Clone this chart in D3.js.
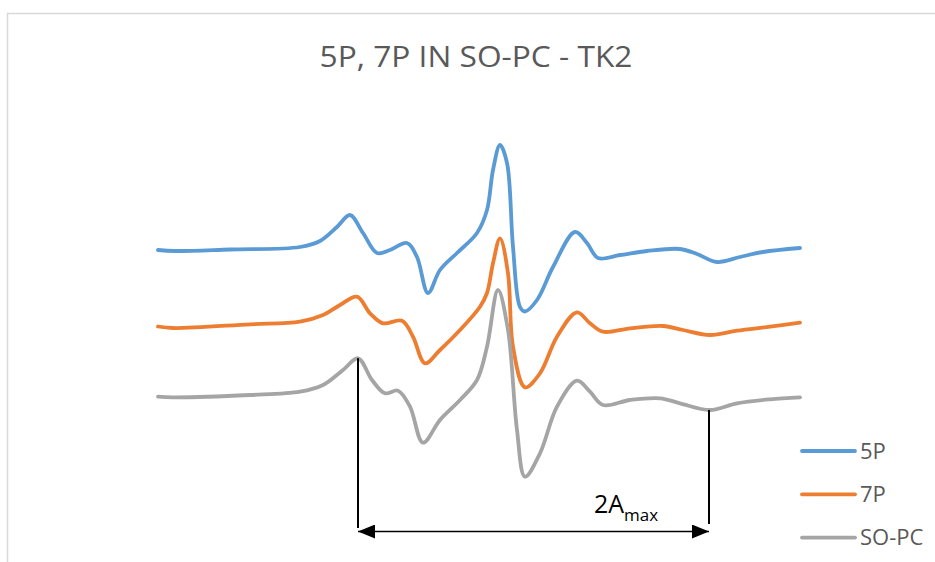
<!DOCTYPE html>
<html>
<head>
<meta charset="utf-8">
<script src="https://cdn.jsdelivr.net/npm/d3@7"></script>
<style>
  body { margin: 0; background: #fff; }
  svg { display: block; }
</style>
</head>
<body>
<svg id="chart_svg" width="935" height="562"></svg>
<script>

var title = "5P, 7P IN SO-PC - TK2";
var seriesNames = ["5P", "7P", "SO-PC"];
var seriesColors = ["#5B9BD5", "#ED7D31", "#A5A5A5"];

// field offset / signal (arbitrary units)
var field5P = [0,17,72,142,162,179,192,205,219,232,249,259,270,282,299,319,329,335,342,349,355,362,367,379,395,417,429,440,462,489,522,539,559,582,605,642];
var signal5P = [230,229,230.5,233,239,253,265,247,227,230,237,223,187,210,227,247,270,310,335,317,233,173,168.5,180,213,248,237,222,225,229,231,226,218,223,228,232];

var field7P = [0,15,92,142,165,182,199,212,225,244,255,267,282,302,322,329,335,342,350,355,367,382,399,419,432,445,472,505,525,552,579,612,642];
var signal7P = [153.5,152,155.7,158.3,165,175,183.3,166.7,156.7,159.3,143.3,116.7,130,150,173.3,187,216.7,241.7,206.7,133.3,92.7,106.7,143.3,167.7,156.7,148.3,151.7,154,150,145,149.3,153.3,157.3];

var fieldSOPC = [0,15,92,142,165,185,200,214,227,240,252,265,282,302,319,329,340,350,359,367,382,399,419,432,445,472,502,522,552,579,612,642];
var signalSOPC = [83.3,82.7,85,88.3,95,110,121.7,100,86.7,89.3,73.3,37.3,60,80,100,133.3,190,150,50,3.3,26.7,73.3,99.3,88.3,75,80,81.7,76.7,70,76.7,80.7,82.7];

// 2A_max markers: field of the outer peaks and their signal
var markerField = [200, 551];
var markerSignal = [121.7, 70];
var markerBottom = [-48, -44];
var arrowLevel = -51.5;

var svg = d3.select("#chart_svg");

// chart frame (cut off by the picture on right/bottom)
svg.append("rect")
  .attr("x", 7.5).attr("y", 13.5)
  .attr("width", 960).attr("height", 600)
  .attr("fill", "none")
  .attr("stroke", "#D9D9D9")
  .attr("stroke-width", 1.5);

svg.append("text")
  .attr("x", 476).attr("y", 67)
  .attr("text-anchor", "middle")
  .attr("font-family", "Open Sans")
  .attr("font-size", 29)
  .attr("fill", "#595959")
  .attr("textLength", 313)
  .attr("lengthAdjust", "spacingAndGlyphs")
  .text(title);

var x = d3.scaleLinear().domain([0, 642]).range([158, 800]);
var y = d3.scaleLinear().domain([0, 480]).range([480, 0]);

var lineGen = d3.line()
  .x(function(d) { return x(d[0]); })
  .y(function(d) { return y(d[1]); })
  .curve(d3.curveCatmullRom.alpha(0.5));

var series = [
  d3.zip(field5P, signal5P),
  d3.zip(field7P, signal7P),
  d3.zip(fieldSOPC, signalSOPC)
];

var plot = svg.append("g");
plot.selectAll("path").data(series).enter().append("path")
  .attr("d", lineGen)
  .attr("fill", "none")
  .attr("stroke", function(d, i) { return seriesColors[i]; })
  .attr("stroke-width", 3.8)
  .attr("stroke-linejoin", "round")
  .attr("stroke-linecap", "round");

// annotation
var defs = svg.append("defs");
defs.append("marker")
  .attr("id", "arrow")
  .attr("viewBox", "0 0 17 14")
  .attr("refX", 17).attr("refY", 7)
  .attr("markerWidth", 17).attr("markerHeight", 14)
  .attr("markerUnits", "userSpaceOnUse")
  .attr("orient", "auto-start-reverse")
  .append("path")
  .attr("d", "M0,0 L17,7 L0,14 Z")
  .attr("fill", "#000");

var ann = svg.append("g");
ann.selectAll("line.mark").data(markerField).enter().append("line")
  .attr("class", "mark")
  .attr("x1", function(d) { return x(d); })
  .attr("x2", function(d) { return x(d); })
  .attr("y1", function(d, i) { return y(markerSignal[i]); })
  .attr("y2", function(d, i) { return y(markerBottom[i]); })
  .attr("stroke", "#000")
  .attr("stroke-width", 2);

ann.append("line")
  .attr("x1", x(markerField[0])).attr("x2", x(markerField[1]))
  .attr("y1", y(arrowLevel)).attr("y2", y(arrowLevel))
  .attr("stroke", "#000")
  .attr("stroke-width", 1.5)
  .attr("marker-start", "url(#arrow)")
  .attr("marker-end", "url(#arrow)");

var lbl = ann.append("text")
  .attr("x", 594).attr("y", 513)
  .attr("font-family", "Open Sans")
  .attr("fill", "#000");
lbl.append("tspan").attr("font-size", 25).text("2A");
lbl.append("tspan").attr("font-size", 17).attr("dy", 8).text("max");

// legend
var legend = svg.append("g").attr("transform", "translate(802,451)");
var item = legend.selectAll("g").data(seriesNames).enter().append("g")
  .attr("transform", function(d, i) { return "translate(0," + (i * 43.3) + ")"; });
item.append("line")
  .attr("x1", 0).attr("x2", 53)
  .attr("stroke", function(d, i) { return seriesColors[i]; })
  .attr("stroke-width", 3.8)
  .attr("stroke-linecap", "round");
item.append("text")
  .attr("x", 58).attr("y", 7.5)
  .attr("font-family", "Open Sans")
  .attr("font-size", 22)
  .attr("fill", "#595959")
  .text(function(d) { return d; });

</script>
</body>
</html>
